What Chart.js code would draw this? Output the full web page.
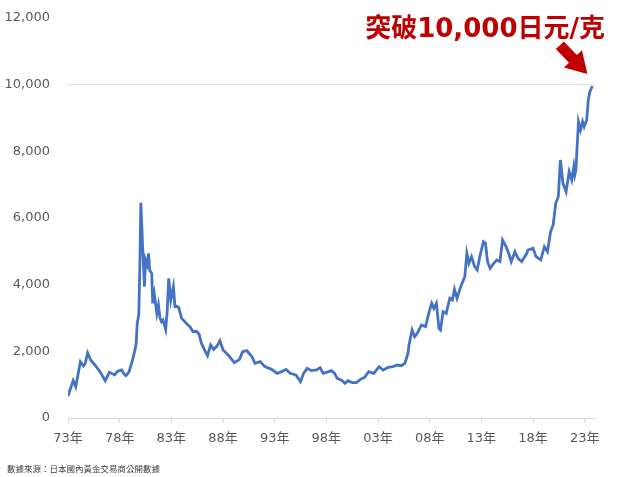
<!DOCTYPE html>
<html>
<head>
<meta charset="utf-8">
<script src="https://cdn.jsdelivr.net/npm/chart.js@4/dist/chart.umd.min.js"></script>
<style>
  html, body { margin: 0; padding: 0; background: #fff; }
  #wrap { position: relative; width: 624px; height: 477px; }
  #headline {
    position: absolute; right: 19px; top: 7px;
    font: bold 26px "DejaVu Sans", "Noto Sans CJK TC", sans-serif;
    color: #c00000; white-space: nowrap;
  }
  #source {
    position: absolute; left: 7px; top: 462px;
    font: 8.5px "Noto Sans CJK TC", sans-serif;
    color: #404040; white-space: nowrap;
  }
</style>
</head>
<body>
<div id="wrap">
  <canvas id="gold-chart" width="624" height="477"></canvas>
  <div id="headline">突破10,000日元/克</div>
  <div id="source">數據來源：日本國內黃金交易商公開數據</div>
</div>
<script>
// values (year, yen per gram)
const years = [
  1973.0, 1973.5, 1973.75, 1974.2, 1974.5, 1974.65, 1974.9, 1975.2, 1975.6, 1976.1,
  1976.6, 1977.0, 1977.3, 1977.5, 1977.8, 1978.2, 1978.4, 1978.6, 1978.9, 1979.2,
  1979.45, 1979.6, 1979.7, 1979.85, 1979.95, 1980.05, 1980.2, 1980.4, 1980.5, 1980.65,
  1980.8, 1980.9, 1981.1, 1981.2, 1981.35, 1981.6, 1981.75, 1981.9, 1982.05, 1982.2,
  1982.45, 1982.6, 1982.75, 1982.95, 1983.2, 1983.35, 1983.5, 1983.7, 1984.0, 1984.3,
  1984.6, 1984.8, 1985.1, 1985.45, 1985.7, 1985.9, 1986.2, 1986.5, 1986.8, 1987.1,
  1987.4, 1987.7, 1988.0, 1988.5, 1989.1, 1989.6, 1989.9, 1990.3, 1990.5, 1990.8,
  1991.1, 1991.6, 1992.05, 1992.7, 1993.25, 1993.65, 1994.1, 1994.5, 1995.05, 1995.5,
  1995.8, 1996.15, 1996.55, 1997.05, 1997.4, 1997.7, 1998.0, 1998.5, 1998.8, 1999.05,
  1999.45, 1999.8, 2000.1, 2000.5, 2000.9, 2001.3, 2001.7, 2002.1, 2002.6, 2003.1,
  2003.5, 2004.0, 2004.45, 2004.85, 2005.25, 2005.6, 2005.9, 2006.0, 2006.3, 2006.55,
  2006.8, 2007.2, 2007.6, 2007.95, 2008.2, 2008.4, 2008.65, 2008.9, 2009.05, 2009.3,
  2009.6, 2009.95, 2010.2, 2010.4, 2010.65, 2011.0, 2011.4, 2011.6, 2011.8, 2012.05,
  2012.35, 2012.6, 2012.85, 2013.2, 2013.4, 2013.6, 2013.85, 2014.2, 2014.5, 2014.8,
  2015.05, 2015.4, 2015.7, 2015.9, 2016.25, 2016.55, 2016.9, 2017.4, 2017.5, 2018.0,
  2018.3, 2018.75, 2019.1, 2019.4, 2019.7, 2019.95, 2020.2, 2020.45, 2020.65, 2020.9,
  2021.2, 2021.5, 2021.75, 2021.95, 2022.05, 2022.15, 2022.4, 2022.6, 2022.8, 2022.95,
  2023.2, 2023.35, 2023.5, 2023.75
];

const prices = [
  660, 1120, 940, 1690, 1560, 1620, 1950, 1740, 1590, 1390,
  1120, 1370, 1330, 1290, 1400, 1440, 1330, 1270, 1380, 1690,
  2000, 2240, 2840, 3100, 4500, 6460, 5300, 3940, 4740, 4600,
  4940, 4440, 4340, 3440, 3720, 3140, 3390, 3000, 2890, 2940,
  2660, 3200, 4190, 3540, 3940, 3340, 3350, 3320, 2990, 2890,
  2790, 2740, 2590, 2600, 2500, 2250, 2050, 1870, 2190, 2060,
  2150, 2320, 2040, 1890, 1660, 1760, 1990, 2020, 1950, 1840,
  1640, 1690, 1540, 1460, 1340, 1390, 1460, 1340, 1290, 1090,
  1340, 1490, 1420, 1440, 1510, 1340, 1370, 1420, 1340, 1190,
  1140, 1040, 1120, 1060, 1060, 1160, 1220, 1390, 1340, 1540,
  1440, 1520, 1540, 1590, 1570, 1640, 1940, 2190, 2640, 2440,
  2540, 2790, 2740, 3190, 3440, 3290, 3440, 2690, 2640, 3190,
  3140, 3590, 3540, 3860, 3590, 3940, 4240, 4940, 4640, 4840,
  4540, 4440, 4840, 5290, 5240, 4690, 4490, 4640, 4740, 4690,
  5340, 5140, 4890, 4690, 4990, 4790, 4690, 4940, 5040, 5090,
  4840, 4740, 5140, 4990, 5590, 5790, 6440, 6640, 7740, 7040,
  6790, 7390, 7140, 7540, 7300, 7440, 8890, 8640, 8890, 8740,
  8940, 9540, 9790, 9960
];

const yearTicks = [1973, 1978, 1983, 1988, 1993, 1998, 2003, 2008, 2013, 2018, 2023];
const priceTicks = [0, 2000, 4000, 6000, 8000, 10000, 12000];

const axisFont = { family: "'DejaVu Sans', 'Noto Sans CJK TC', sans-serif", size: 13 };

// red arrow pointing at the last point of the line
const arrowPlugin = {
  id: "arrow",
  afterDatasetsDraw(chart) {
    const { ctx, scales } = chart;
    const last = years.length - 1;
    const px = scales.x.getPixelForValue(years[last]);
    const py = scales.y.getPixelForValue(prices[last]);
    const tip = { x: px - 5, y: py - 12 };
    const u = { x: 0.69, y: 0.72 };
    const n = { x: -u.y, y: u.x };
    const at = (d, w) => [tip.x - u.x * d + n.x * w, tip.y - u.y * d + n.y * w];
    const pts = [at(0, 0), at(21, 12.5), at(21, 5.5), at(40, 5.5), at(40, -5.5), at(21, -5.5), at(21, -12.5)];
    ctx.save();
    ctx.fillStyle = "#c00000";
    ctx.beginPath();
    pts.forEach(([x, y], i) => (i ? ctx.lineTo(x, y) : ctx.moveTo(x, y)));
    ctx.closePath();
    ctx.fill();
    ctx.restore();
  },
};

new Chart(document.getElementById("gold-chart"), {
  type: "line",
  data: {
    datasets: [
      {
        data: years.map((x, i) => ({ x, y: prices[i] })),
        borderColor: "#4472c4",
        borderWidth: 2.8,
        pointRadius: 0,
        tension: 0,
        fill: false,
      },
    ],
  },
  options: {
    responsive: false,
    animation: false,
    layout: { padding: { top: 18, right: 29, bottom: 25, left: 0 } },
    plugins: {
      legend: { display: false },
      tooltip: { enabled: false },
    },
    scales: {
      x: {
        type: "linear",
        min: 1973,
        max: 2024,
        afterBuildTicks: (scale) => {
          scale.ticks = yearTicks.map((value) => ({ value }));
        },
        afterFit: (scale) => {
          scale.height = 34;
        },
        ticks: {
          font: axisFont,
          color: "#595959",
          padding: 8,
          maxRotation: 0,
          autoSkip: false,
          callback: (v) => String(v % 100).padStart(2, "0") + "年",
        },
        grid: { drawOnChartArea: false, drawTicks: true, tickLength: 5, color: "#d9d9d9" },
        border: { color: "#d9d9d9" },
      },
      y: {
        min: 0,
        max: 12000,
        afterBuildTicks: (scale) => {
          scale.ticks = priceTicks.map((value) => ({ value }));
        },
        afterFit: (scale) => {
          scale.width = 68;
          scale.paddingTop = 0;
          scale.paddingBottom = 0;
        },
        ticks: {
          font: axisFont,
          color: "#595959",
          padding: 18,
          callback: (v) => v.toLocaleString("en-US"),
        },
        grid: {
          drawTicks: false,
          color: (c) => (c.tick && c.tick.value === 10000 ? "#e3e3e3" : "rgba(0,0,0,0)"),
        },
        border: { display: false },
      },
    },
  },
  plugins: [arrowPlugin],
});
</script>
</body>
</html>
